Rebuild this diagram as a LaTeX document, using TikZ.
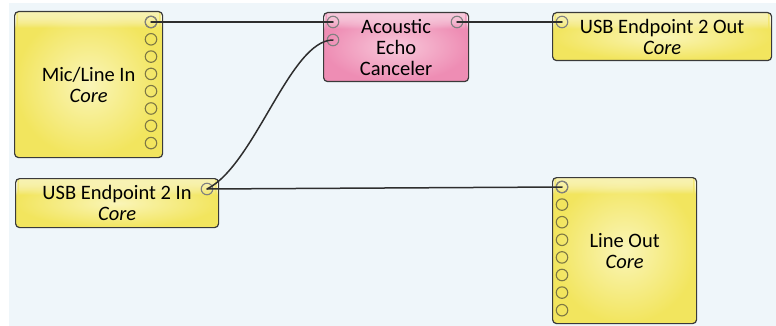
\documentclass[tikz,border=0pt]{standalone}
\usepackage{fontspec}
\setmainfont{Carlito}
\usetikzlibrary{calc}

\definecolor{canvas}{HTML}{EFF6FA}
\definecolor{edge}{HTML}{3A3A3A}
\definecolor{wire}{HTML}{2E2E2E}
\definecolor{yelIn}{HTML}{FAF5B8}
\definecolor{yelOut}{HTML}{F2E55E}
\definecolor{pinkIn}{HTML}{F8C8DA}
\definecolor{pinkOut}{HTML}{EE8DB4}
\definecolor{portYel}{HTML}{7E7844}
\definecolor{portPink}{HTML}{8E6676}
\definecolor{portUsed}{HTML}{808080}

% glossy top band, built from thin strips whose opacity falls off downwards
\tikzset{
  block/.style={draw=edge, line width=1.2pt, rounded corners=4pt,
    align=center, inner sep=0pt, anchor=north west,
    font=\fontsize{20.5}{21}\selectfont,
    path picture={
      \foreach \s in {0,...,15}
        \fill[white, opacity={0.6*(1-(\s/16)^2)}]
          ([yshift=-\s pt]path picture bounding box.north west) rectangle
          ([yshift={-(\s+1)*1pt}]path picture bounding box.north east);}},
  core/.style={block, inner color=yelIn, outer color=yelOut},
  dsp/.style={block, inner color=pinkIn, outer color=pinkOut},
  port/.style={circle, minimum size=11.5pt, inner sep=0pt, line width=1.1pt, draw=portYel},
  pinkport/.style={port, draw=portPink},
  used/.style={draw=portUsed},
  wirestyle/.style={draw=wire, line width=1.5pt, line cap=round}
}

\begin{document}
\begin{tikzpicture}[x=1pt, y=-1pt]
  \useasboundingbox (0,0) rectangle (776,326);
  \fill[white] (0,0) rectangle (776,326);
  \fill[canvas] (9,3) rectangle (776,326);

  % processing blocks
  \node[core, minimum width=148pt, minimum height=146pt] (mic) at (14,11)
    {Mic/Line In\\\textit{Core}};
  \node[dsp, minimum width=145pt, minimum height=69pt] (aec) at (323,12)
    {Acoustic\\Echo\\Canceler};
  \node[core, minimum width=219pt, minimum height=48pt] (usbout) at (552,12)
    {USB Endpoint 2 Out\\\textit{Core}};
  \node[core, minimum width=203pt, minimum height=49pt] (usbin) at (15,178)
    {USB Endpoint 2 In\\\textit{Core}};
  \node[core, minimum width=144pt, minimum height=146pt] (lineout) at (552,177)
    {Line Out\\\textit{Core}};

  % output ports of Mic/Line In
  \foreach \k in {1,...,8}
    \node[port] (mic-o\k) at (151,{22+17.3*(\k-1)}) {};
  % input ports of Line Out
  \foreach \k in {1,...,8}
    \node[port] (lineout-i\k) at (562,{187+17.6*(\k-1)}) {};
  % echo canceler ports
  \node[pinkport, used] (aec-i1) at (333,22) {};
  \node[pinkport, used] (aec-i2) at (333,40) {};
  \node[pinkport, used] (aec-o1) at (457,22) {};
  % USB endpoint ports
  \node[port, used] (usbout-i1) at (562,22) {};
  \node[port, used] (usbin-o1) at (207,189) {};
  \node[port, used] at (mic-o1) {};
  \node[port, used] at (lineout-i1) {};

  % connections
  \draw[wirestyle] (mic-o1.center) -- (aec-i1.center);
  \draw[wirestyle] (aec-o1.center) -- (usbout-i1.center);
  \draw[wirestyle] (usbin-o1.center) .. controls (255,165) and (290,40) .. (aec-i2.center);
  \draw[wirestyle] (usbin-o1.center) -- (lineout-i1.center);
\end{tikzpicture}
\end{document}
